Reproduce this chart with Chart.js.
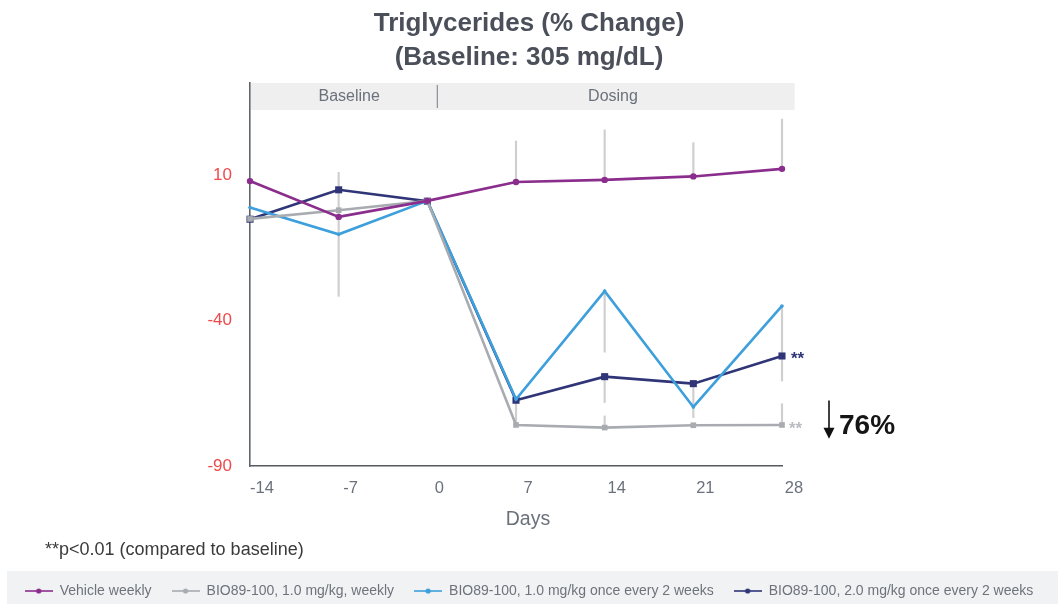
<!DOCTYPE html>
<html>
<head>
<meta charset="utf-8">
<script src="https://cdn.jsdelivr.net/npm/chart.js@4.4.1/dist/chart.umd.min.js"></script>
<style>
  html, body { margin: 0; padding: 0; background: #ffffff; }
  canvas { display: block; }
</style>
</head>
<body>
<canvas id="c" width="1058" height="604" style="width:1058px;height:604px"></canvas>
<script>
// ---------- data ----------
const days = [-14, -7, 0, 7, 14, 21, 28];
const seriesNames = [
  'Vehicle weekly',
  'BIO89-100, 1.0 mg/kg, weekly',
  'BIO89-100, 1.0 mg/kg once every 2 weeks',
  'BIO89-100, 2.0 mg/kg once every 2 weeks'
];
const vehicle    = [7.9, -4.4, 1.1, 7.6, 8.3, 9.5, 12.1];
const bio1Weekly = [-5.1, -2.1, 1.1, -75.9, -76.8, -76.0, -75.9];
const bio1Q2W    = [-1.2, -10.4, 1.1, -67.1, -29.9, -69.7, -35.0];
const bio2Q2W    = [-5.2, 4.9, 1.0, -67.4, -59.3, -61.7, -52.2];

// visible error-bar ends (null = not visible)
const vehicleErrLow     = [null, null, null, null, null, null, null];
const vehicleErrHigh    = [null, null, null, 21.7, 25.5, 21.1, 29.2];
const bio1WeeklyErrLow  = [null, null, null, null, null, null, null];
const bio1WeeklyErrHigh = [null, null, null, null, -72.8, null, -68.6];
const bio1Q2WErrLow     = [null, -31.7, null, null, -50.9, null, -60.8];
const bio1Q2WErrHigh    = [null, 10.9, null, null, null, null, null];
const bio2Q2WErrLow     = [null, null, null, -75.2, -68.2, -73.4, null];
const bio2Q2WErrHigh    = [null, null, null, null, null, null, null];

const yTicks = [-90, -40, 10];
const xTickStep = 7;
const xTitle = 'Days';
const phaseLabels = ['Baseline', 'Dosing'];
const phaseBounds = [-14, 0, 29];
const footnote = '**p<0.01 (compared to baseline)';
const reductionLabel = '76%';

// ---------- styling ----------
const FONT = '"Liberation Sans", Arial, Helvetica, sans-serif';
Chart.defaults.font.family = FONT;
const colors = ['#8b2d8c', '#a8acb1', '#3d9fdb', '#2f3577'];
const pointStyles = ['circle', 'rect', 'circle', 'rect'];
const pointRadii = [3.2, 4, 1.8, 5];
const LABEL_OFFSET = 12;

function legendIcon(color) {
  const c = document.createElement('canvas');
  c.width = 28; c.height = 10;
  const g = c.getContext('2d');
  g.strokeStyle = color; g.lineWidth = 1.6;
  g.beginPath(); g.moveTo(0, 5); g.lineTo(28, 5); g.stroke();
  g.fillStyle = color;
  g.beginPath(); g.arc(14, 5, 2.6, 0, Math.PI * 2); g.fill();
  return c;
}
const icons = colors.map(legendIcon);

const seriesValues = [vehicle, bio1Weekly, bio1Q2W, bio2Q2W];
const errLows = [vehicleErrLow, bio1WeeklyErrLow, bio1Q2WErrLow, bio2Q2WErrLow];
const errHighs = [vehicleErrHigh, bio1WeeklyErrHigh, bio1Q2WErrHigh, bio2Q2WErrHigh];

const lineDatasets = seriesValues.map((vals, s) => ({
  type: 'line',
  label: seriesNames[s],
  data: days.map((d, i) => ({ x: d, y: vals[i] })),
  borderColor: colors[s],
  backgroundColor: colors[s],
  borderWidth: 2.6,
  pointStyle: pointStyles[s],
  pointRadius: pointRadii[s],
  pointBorderWidth: 0,
  pointBackgroundColor: colors[s],
  tension: 0,
  clip: false
}));

const errData = [];
seriesValues.forEach((vals, s) => {
  days.forEach((d, i) => {
    const lo = errLows[s][i], hi = errHighs[s][i];
    if (lo === null && hi === null) return;
    errData.push({ x: d, y: [lo === null ? vals[i] : lo, hi === null ? vals[i] : hi] });
  });
});

const errDataset = {
  type: 'bar',
  label: 'error',
  data: errData,
  backgroundColor: '#cfcfcf',
  borderWidth: 0,
  barThickness: 1.5,
  grouped: false,
  clip: false
};

const decor = {
  id: 'decor',
  beforeDraw(chart) {
    const { ctx } = chart;
    ctx.save();
    ctx.fillStyle = '#ffffff';
    ctx.fillRect(0, 0, chart.width, chart.height);
    const lg = chart.legend;
    ctx.fillStyle = '#f1f2f4';
    ctx.fillRect(7, lg.top + 7, chart.width - 7, chart.height - lg.top - 7);
    ctx.restore();
  },
  beforeDatasetsDraw(chart) {
    const { ctx, chartArea } = chart;
    const xs = chart.scales.x;
    const top = chartArea.top, h = 27;
    ctx.save();
    const px = phaseBounds.map((v, i) => xs.getPixelForValue(v) + (i === 0 ? 1 : (i === phaseBounds.length - 1 ? 0 : 10)));
    ctx.fillStyle = '#efefef';
    ctx.fillRect(px[0], top, px[px.length - 1] - px[0], h);
    ctx.strokeStyle = '#8a8f98';
    ctx.lineWidth = 1.2;
    for (let i = 1; i < px.length - 1; i++) {
      ctx.beginPath(); ctx.moveTo(px[i], top + 2); ctx.lineTo(px[i], top + h - 2); ctx.stroke();
    }
    ctx.fillStyle = '#6b717b';
    ctx.font = '16px ' + FONT;
    ctx.textAlign = 'center';
    ctx.textBaseline = 'middle';
    phaseLabels.forEach((t, i) => {
      ctx.fillText(t, (px[i] + px[i + 1]) / 2 + (i === 0 ? 5 : -3), top + h / 2);
    });
    ctx.restore();
  },
  afterDatasetsDraw(chart) {
    const { ctx } = chart;
    const xs = chart.scales.x, ys = chart.scales.y;
    const lastX = xs.getPixelForValue(days[days.length - 1]);
    ctx.save();
    ctx.font = 'bold 17px ' + FONT;
    ctx.textAlign = 'left';
    ctx.textBaseline = 'middle';
    ctx.fillStyle = colors[3];
    ctx.fillText('**', lastX + 9, ys.getPixelForValue(bio2Q2W[bio2Q2W.length - 1]) + 3);
    ctx.fillStyle = '#b9bdc2';
    ctx.fillText('**', lastX + 7, ys.getPixelForValue(bio1Weekly[bio1Weekly.length - 1]) + 4);
    // arrow
    const ax = lastX + 47;
    const aTop = ys.getPixelForValue(-67.5), aBot = ys.getPixelForValue(-80.6);
    ctx.strokeStyle = '#111'; ctx.fillStyle = '#111'; ctx.lineWidth = 1.6;
    ctx.beginPath(); ctx.moveTo(ax, aTop); ctx.lineTo(ax, aBot - 9); ctx.stroke();
    ctx.beginPath(); ctx.moveTo(ax - 5.5, aBot - 11); ctx.lineTo(ax + 5.5, aBot - 11); ctx.lineTo(ax, aBot); ctx.closePath(); ctx.fill();
    ctx.font = 'bold 28px ' + FONT;
    ctx.fillStyle = '#151515';
    ctx.fillText(reductionLabel, ax + 10, ys.getPixelForValue(-76.2));
    ctx.restore();
  },
  afterDraw(chart) {
    const { ctx, chartArea } = chart;
    const xs = chart.scales.x;
    const lg = chart.legend;
    ctx.save();
    // x-axis title, centred under the tick labels
    ctx.font = '19.5px ' + FONT;
    ctx.fillStyle = '#6b717b';
    ctx.textAlign = 'center';
    ctx.textBaseline = 'middle';
    const cx = (xs.getPixelForValue(days[0]) + xs.getPixelForValue(days[days.length - 1])) / 2 + LABEL_OFFSET;
    ctx.fillText(xTitle, cx, chartArea.bottom + 54);
    // footnote
    ctx.font = '18px ' + FONT;
    ctx.fillStyle = '#3a3a3a';
    ctx.textAlign = 'left';
    ctx.fillText(footnote, 45, lg.top - 14);
    ctx.restore();
  }
};

new Chart(document.getElementById('c'), {
  type: 'line',
  data: { datasets: [...lineDatasets, errDataset] },
  options: {
    responsive: false,
    animation: false,
    layout: { padding: { left: 0, right: 0, top: 0, bottom: -4 } },
    plugins: {
      tooltip: { enabled: false },
      title: {
        display: true,
        text: ['Triglycerides (% Change)', '(Baseline: 305 mg/dL)'],
        color: '#4a4f5a',
        font: { size: 26, weight: 'bold', lineHeight: 1.3 },
        padding: { top: 7, bottom: 8.4 }
      },
      legend: {
        position: 'bottom',
        labels: {
          usePointStyle: true,
          pointStyleWidth: 28,
          padding: 20,
          color: '#6e737b',
          font: { size: 14 },
          filter: (item) => item.datasetIndex < seriesNames.length,
          generateLabels(chart) {
            const items = Chart.defaults.plugins.legend.labels.generateLabels(chart);
            items.forEach(it => { if (it.datasetIndex < icons.length) it.pointStyle = icons[it.datasetIndex]; });
            return items;
          }
        }
      }
    },
    scales: {
      x: {
        type: 'linear',
        min: days[0],
        max: days[days.length - 1],
        offset: false,
        grid: { display: false, drawTicks: false },
        border: { display: true, color: '#555a60', width: 1.6 },
        ticks: { stepSize: xTickStep, color: '#6b717b', font: { size: 16.5 }, padding: 13, labelOffset: LABEL_OFFSET },
        title: { display: false },
        afterFit: (s) => { s.height = 98; }
      },
      y: {
        type: 'linear',
        position: 'left',
        min: -90,
        max: 41.6,
        grid: { display: false, drawTicks: false },
        border: { display: true, color: '#60656b', width: 1.6 },
        ticks: { color: '#f0494b', font: { size: 17 }, padding: 18 },
        afterBuildTicks: (s) => { s.ticks = yTicks.map(v => ({ value: v })); },
        afterFit: (s) => { s.width = 250; }
      },
      yRight: {
        type: 'linear',
        position: 'right',
        display: true,
        grid: { display: false, drawTicks: false },
        border: { display: false },
        ticks: { display: false },
        afterFit: (s) => { s.width = 276; }
      }
    }
  },
  plugins: [decor]
});
</script>
</body>
</html>
